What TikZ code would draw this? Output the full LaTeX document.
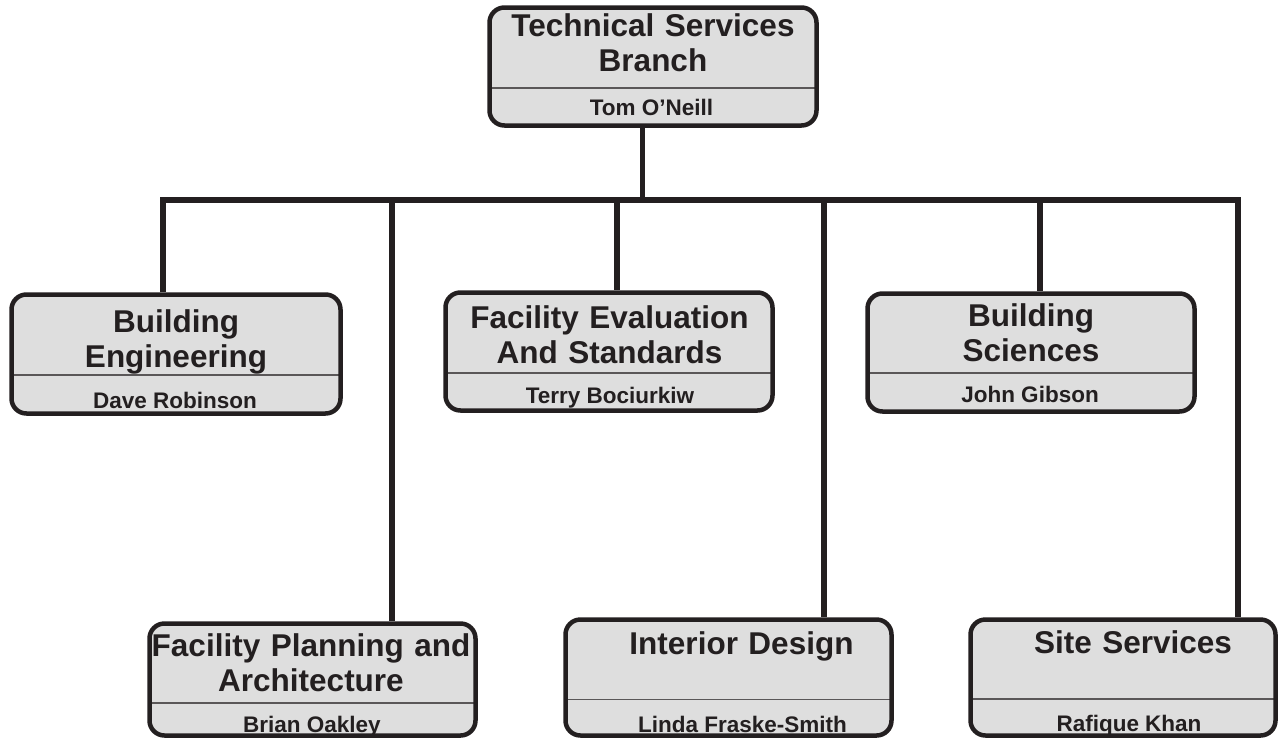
\documentclass[tikz,border=0pt]{standalone}
\usepackage{fontspec}
\setmainfont{Liberation Sans}
\definecolor{boxgray}{HTML}{DEDEDE}
\definecolor{ink}{HTML}{231F20}

\begin{document}
\begin{tikzpicture}[x=1pt, y=-1pt,
    unit/.style={draw=ink, fill=boxgray, line width=4.5pt, rounded corners=15pt, inner sep=0pt,
        path picture={\draw[ink!75, line width=1.6pt]
            ([yshift=#1]path picture bounding box.south west) --
            ([yshift=#1]path picture bounding box.south east);}},
    title/.style={text width=330pt, align=center, anchor=base, inner sep=0pt, text=ink,
        font=\bfseries\fontsize{31.5pt}{35pt}\selectfont},
    person/.style={anchor=base, inner sep=0pt, text=ink,
        font=\bfseries\fontsize{22.5pt}{26pt}\selectfont},
    wire/.style={draw=ink, line width=5.3pt}]
    \useasboundingbox (0,0) rectangle (1280,740);

    \node[unit=37.5pt, minimum width=327pt, minimum height=118pt] (tsb) at (653,66.5) {};
    \node[unit=38.5pt, minimum width=329pt, minimum height=119pt] (be) at (176,354) {};
    \node[unit=37.5pt, minimum width=327pt, minimum height=118pt] (fe) at (609,351.5) {};
    \node[unit=38.5pt, minimum width=327pt, minimum height=118pt] (bs) at (1031,352.5) {};
    \node[unit=32.5pt, minimum width=326pt, minimum height=112pt] (fp) at (312.5,679.5) {};
    \node[unit=36pt, minimum width=326pt, minimum height=116pt] (id) at (728.5,677.5) {};
    \node[unit=36.5pt, minimum width=305pt, minimum height=116pt] (ss) at (1123,677.5) {};

    \node[title] (tsb-t) at (653,36) {Technical Services\\Branch};
    \node[title] (be-t) at (176,332) {Building\\Engineering};
    \node[title] (fe-t) at (609.5,328) {Facility Evaluation\\And Standards};
    \node[title] (bs-t) at (1031,326) {Building\\Sciences};
    \node[title] (fp-t) at (311,656) {Facility Planning and\\Architecture};
    \node[title] (id-t) at (741.5,654) {Interior Design};
    \node[title] (ss-t) at (1133,653) {Site Services};

    \node[person] (tsb-n) at (651.5,115) {Tom O’Neill};
    \node[person] (be-n) at (175,408) {Dave Robinson};
    \node[person] (fe-n) at (610,403) {Terry Bociurkiw};
    \node[person] (bs-n) at (1030,402) {John Gibson};
    \node[person] (fp-n) at (312,732) {Brian Oakley};
    \node[person] (id-n) at (742.5,732) {Linda Fraske-Smith};
    \node[person] (ss-n) at (1129,731) {Rafique Khan};

    \coordinate (hub) at (642.5,200);
    \foreach \x/\n in {163/be, 392/fp, 617/fe, 824/id, 1040/bs, 1238/ss} {
        \coordinate (d-\n) at (\x,200);
    }
    \draw[wire] (tsb.south -| hub) -- (hub);
    \draw[wire] (d-be |- be.north) -- (d-be) -- (d-ss) -- (d-ss |- ss.north);
    \foreach \n in {fp, fe, id, bs} {
        \draw[wire] (d-\n) -- (d-\n |- \n.north);
    }
\end{tikzpicture}
\end{document}
